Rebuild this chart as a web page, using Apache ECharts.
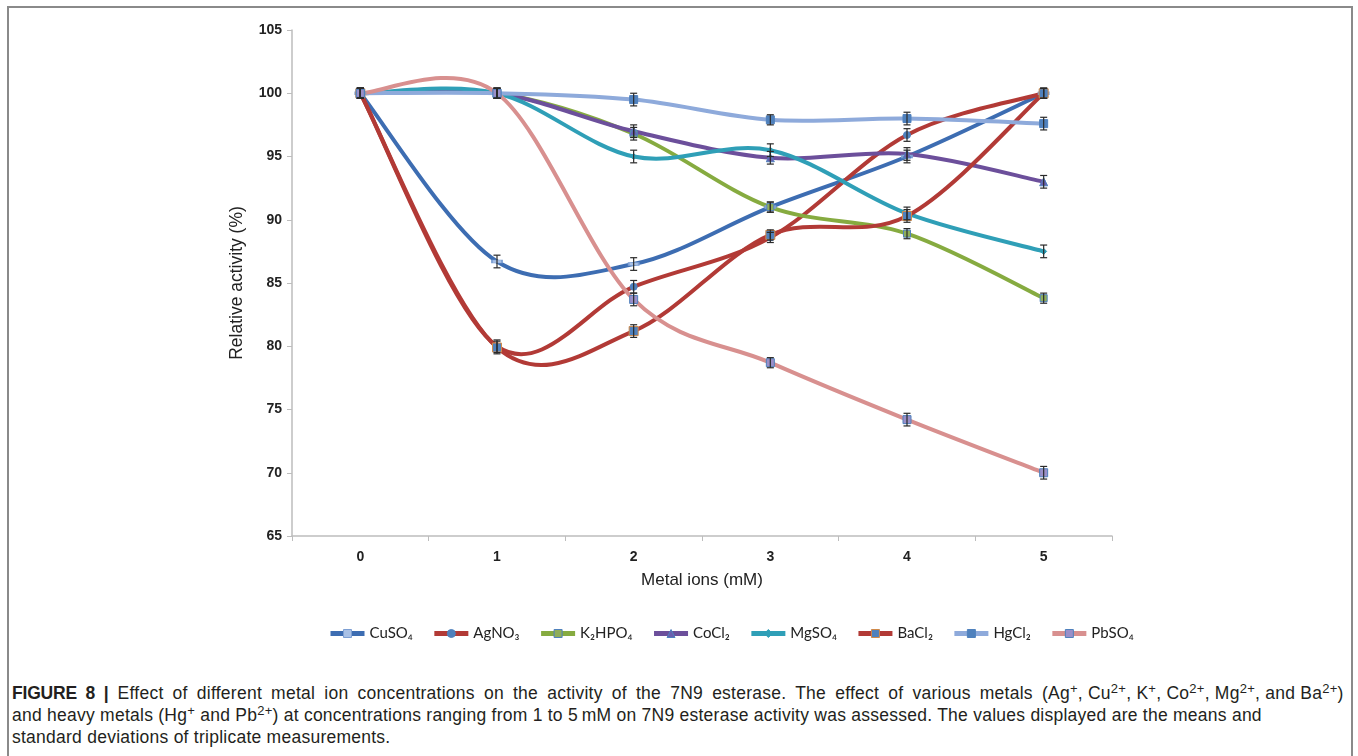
<!DOCTYPE html>
<html>
<head>
<meta charset="utf-8">
<script src="https://cdn.jsdelivr.net/npm/echarts@6/dist/echarts.min.js"></script>
<style>
  html, body { margin: 0; padding: 0; background: #fff; }
  #wrap { position: relative; width: 1358px; height: 756px; overflow: hidden; }
  #frame { position: absolute; left: 7px; top: 6px; width: 1346px; height: 800px; border: 2px solid #8a8a8a; box-sizing: border-box; }
  #chart { position: absolute; left: 0; top: 0; width: 1358px; height: 660px; }
  #caption { position: absolute; left: 12px; top: 682px; font-family: "Liberation Sans", Arial, sans-serif; font-size: 17.5px; line-height: 22px; letter-spacing: 0.25px; color: #231f20; white-space: nowrap; }
  #caption b { font-weight: bold; letter-spacing: -0.2px; }
  #caption sup { font-size: 13px; line-height: 0; vertical-align: 6px; }
  #caption .wide { word-spacing: 4.0px; }
</style>
</head>
<body>
<div id="wrap">
  <div id="frame"></div>
  <div id="chart"></div>
  <div id="caption"><span class="wide"><b>FIGURE 8 |</b> Effect of different metal ion concentrations on the activity of the 7N9 esterase. The effect of various metals </span>(Ag<sup>+</sup>, Cu<sup>2+</sup>, K<sup>+</sup>, Co<sup>2+</sup>, Mg<sup>2+</sup>, and Ba<sup>2+</sup>)<br>and heavy metals (Hg<sup>+</sup> and Pb<sup>2+</sup>) at concentrations ranging from 1 to 5&#8201;mM on 7N9 esterase activity was assessed. The values displayed are the means and<br>standard deviations of triplicate measurements.</div>
</div>
<script>
// ---- data ----
const categories = ['0', '1', '2', '3', '4', '5'];
const yTicks = [65, 70, 75, 80, 85, 90, 95, 100, 105];
const seriesNames = ['CuSO₄', 'AgNO₃', 'K₂HPO₄', 'CoCl₂', 'MgSO₄', 'BaCl₂', 'HgCl₂', 'PbSO₄'];
const cuso4  = [100, 86.7, 86.5, 91.0, 95.0, 100];
const agno3  = [100, 80.0, 84.7, 88.6, 96.7, 100];
const k2hpo4 = [100, 100, 96.8, 91.0, 88.9, 83.8];
const cocl2  = [100, 100, 97.0, 94.9, 95.2, 93.0];
const mgso4  = [100, 100, 95.0, 95.5, 90.5, 87.5];
const bacl2  = [100, 79.9, 81.2, 88.8, 90.3, 100];
const hgcl2  = [100, 100, 99.5, 97.9, 98.0, 97.6];
const pbso4  = [100, 100, 83.7, 78.7, 74.2, 70.0];
const cuso4Err  = [0.4, 0.5, 0.5, 0.4, 0.5, 0.4];
const agno3Err  = [0.4, 0.5, 0.5, 0.4, 0.5, 0.4];
const k2hpo4Err = [0.4, 0.4, 0.5, 0.4, 0.4, 0.4];
const cocl2Err  = [0.4, 0.4, 0.5, 0.5, 0.5, 0.5];
const mgso4Err  = [0.4, 0.4, 0.5, 0.5, 0.5, 0.5];
const bacl2Err  = [0.4, 0.5, 0.5, 0.4, 0.5, 0.4];
const hgcl2Err  = [0.4, 0.4, 0.5, 0.4, 0.5, 0.5];
const pbso4Err  = [0.4, 0.4, 0.5, 0.4, 0.5, 0.5];

const allValues = [cuso4, agno3, k2hpo4, cocl2, mgso4, bacl2, hgcl2, pbso4];
const allErrs = [cuso4Err, agno3Err, k2hpo4Err, cocl2Err, mgso4Err, bacl2Err, hgcl2Err, pbso4Err];

// ---- styles ----
const lineColors = ['#3d6db2', '#b23a36', '#86ab40', '#6c4f9b', '#2f9fb7', '#b23a36', '#8eaadb', '#d8908f'];
const markers = [
  { symbol: 'rect', size: [10, 3], color: '#a9c1e6', border: '#7d9fd3' },
  { symbol: 'circle', size: 7, color: '#4f81bd', border: '#4f81bd' },
  { symbol: 'rect', size: 7, color: '#8fae5a', border: '#4f81bd' },
  { symbol: 'triangle', size: 8, color: '#6a5fb0', border: '#4f81bd' },
  { symbol: 'diamond', size: 6, color: '#2f9fb7', border: '#2f9fb7' },
  { symbol: 'rect', size: 9, color: '#4f81bd', border: '#d08a4a' },
  { symbol: 'rect', size: 8, color: '#4f81bd', border: '#4f81bd' },
  { symbol: 'rect', size: 8, color: '#9a8fc9', border: '#4f81bd' }
];

function curveRenderer(values, color) {
  return function (params, api) {
    const i = api.value(0);
    const n = values.length;
    const P = function (k) {
      const c = Math.max(0, Math.min(n - 1, k));
      return api.coord([c, values[c]]);
    };
    const p0 = P(i - 1), p1 = P(i), p2 = P(i + 1), p3 = P(i + 2);
    return {
      type: 'bezierCurve',
      shape: {
        x1: p1[0], y1: p1[1], x2: p2[0], y2: p2[1],
        cpx1: p1[0] + (p2[0] - p0[0]) / 6, cpy1: p1[1] + (p2[1] - p0[1]) / 6,
        cpx2: p2[0] - (p3[0] - p1[0]) / 6, cpy2: p2[1] - (p3[1] - p1[1]) / 6
      },
      style: { stroke: color, lineWidth: 4, fill: null, lineCap: 'round' }
    };
  };
}

function errRenderer(params, api) {
  const x = api.value(0), v = api.value(1), e = api.value(2);
  const hi = api.coord([x, v + e]);
  const lo = api.coord([x, v - e]);
  const cw = 3.5;
  const st = { stroke: '#2a2a2a', lineWidth: 1.2 };
  return {
    type: 'group',
    children: [
      { type: 'line', shape: { x1: hi[0], y1: hi[1], x2: lo[0], y2: lo[1] }, style: st },
      { type: 'line', shape: { x1: hi[0] - cw, y1: hi[1], x2: hi[0] + cw, y2: hi[1] }, style: st },
      { type: 'line', shape: { x1: lo[0] - cw, y1: lo[1], x2: lo[0] + cw, y2: lo[1] }, style: st }
    ]
  };
}

const series = [];
const legendData = [];
allValues.forEach(function (vals, s) {
  series.push({
    type: 'custom',
    renderItem: curveRenderer(vals, lineColors[s]),
    data: vals.slice(0, vals.length - 1).map(function (v, i) { return [i, v]; }),
    z: 2,
    silent: true,
    clip: false
  });
});
allValues.forEach(function (vals, s) {
  const m = markers[s];
  series.push({
    name: seriesNames[s],
    type: 'line',
    data: vals,
    symbol: m.symbol,
    symbolSize: m.size,
    showAllSymbol: true,
    lineStyle: { width: 4, opacity: 0, color: lineColors[s] },
    itemStyle: { color: m.color, borderColor: m.border, borderWidth: 1, opacity: 1 },
    z: 3,
    animation: false
  });
  legendData.push({
    name: seriesNames[s],
    lineStyle: { color: lineColors[s], width: 5, opacity: 1 },
    itemStyle: { color: m.color, borderColor: m.border, borderWidth: 1, opacity: 1 }
  });
});
allValues.forEach(function (vals, s) {
  series.push({
    type: 'custom',
    renderItem: errRenderer,
    data: vals.map(function (v, i) { return [i, v, allErrs[s][i]]; }),
    z: 4,
    silent: true,
    clip: false
  });
});

const chart = echarts.init(document.getElementById('chart'), null, { renderer: 'canvas' });
chart.setOption({
  animation: false,
  textStyle: { fontFamily: '"Liberation Sans", Arial, sans-serif' },
  grid: { left: 292, right: 246, top: 30, bottom: 124, containLabel: false },
  legend: {
    data: legendData,
    top: 621,
    left: 323,
    itemWidth: 34,
    itemHeight: 10,
    itemGap: 19,
    textStyle: { fontFamily: 'Lato, "Liberation Sans", sans-serif', fontSize: 15, color: '#222' }
  },
  xAxis: {
    type: 'category',
    data: categories,
    boundaryGap: true,
    name: 'Metal ions (mM)',
    nameLocation: 'middle',
    nameGap: 36,
    nameTextStyle: { fontSize: 17, color: '#222' },
    axisLine: { lineStyle: { color: '#bdbdbd', width: 1.5 } },
    axisTick: { show: true, length: 5, alignWithLabel: false, lineStyle: { color: '#bdbdbd' } },
    axisLabel: { fontSize: 14, color: '#222', margin: 14, fontWeight: 'bold' },
    splitLine: { show: false }
  },
  yAxis: {
    type: 'value',
    min: yTicks[0],
    max: yTicks[yTicks.length - 1],
    interval: 5,
    name: 'Relative activity (%)',
    nameLocation: 'middle',
    nameGap: 46,
    nameRotate: 90,
    nameTextStyle: { fontSize: 17.5, color: '#222' },
    axisLine: { show: true, lineStyle: { color: '#bdbdbd', width: 1.5 } },
    axisTick: { show: true, length: 5, lineStyle: { color: '#bdbdbd' } },
    axisLabel: { fontSize: 14, color: '#222', margin: 10, fontWeight: 'bold' },
    splitLine: { show: false }
  },
  series: series
});
</script>
</body>
</html>
